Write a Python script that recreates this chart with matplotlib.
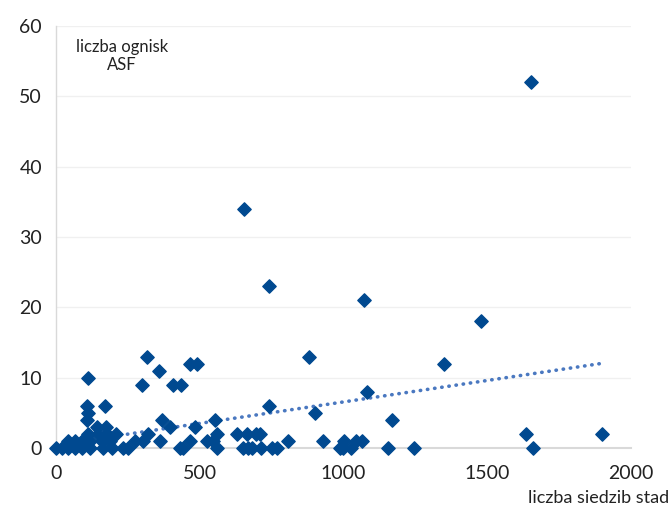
import matplotlib.pyplot as plt
import numpy as np

plt.rcParams['font.family'] = ['Lato', 'DejaVu Sans']

# liczba siedzib stad (x) vs liczba ognisk ASF (y)
herds = [1652, 654, 741, 1071, 1478, 317, 880, 1350, 466, 490, 111, 358,
         299, 407, 435, 1082, 108, 170, 741, 111, 901, 108, 369, 553, 1169,
         143, 174, 397, 485,
         111, 146, 177, 209, 320, 560, 630, 664, 695, 709, 1635, 1899,
         42, 66, 90, 118, 160, 188, 275, 303, 362, 466, 525, 546, 807, 929,
         1002, 1043, 1064,
         0, 21, 42, 66, 90, 118, 163, 195, 233, 250, 431, 442, 560, 650, 668,
         681, 713, 751, 768, 988, 998, 1026, 1155, 1245, 1659]
outbreaks = [52, 34, 23, 21, 18, 13, 13, 12, 12, 12, 10, 11,
             9, 9, 9, 8, 6, 6, 6, 5, 5, 4, 4, 4, 4,
             3, 3, 3, 3,
             2, 2, 2, 2, 2, 2, 2, 2, 2, 2, 2, 2,
             1, 1, 1, 1, 1, 1, 1, 1, 1, 1, 1, 1, 1, 1,
             1, 1, 1,
             0, 0, 0, 0, 0, 0, 0, 0, 0, 0, 0, 0, 0, 0, 0,
             0, 0, 0, 0, 0, 0, 0, 0, 0, 0]

# linear trend
trend_slope = 0.0061
trend_intercept = 0.45

x = np.array(herds)
y = np.array(outbreaks)

fig = plt.figure(figsize=(6.71, 5.12), dpi=100)
ax = fig.add_axes([56 / 671, 1 - 448 / 512, 575 / 671, 422 / 512])

xt = np.linspace(x.min(), x.max(), 2)
ax.plot(xt, trend_slope * xt + trend_intercept, color='#4a78c0', lw=2.6,
        linestyle=(0, (0.1, 1.9)), dash_capstyle='round', zorder=2)

ax.scatter(x, y, marker='D', s=46, color='#004990', zorder=3, clip_on=False)

ax.set_xlim(0, 2000)
ax.set_ylim(0, 60)
ax.set_xticks([0, 500, 1000, 1500, 2000])
ax.set_yticks(range(0, 61, 10))
ax.grid(axis='y', color='#f0f0f0', lw=1)
ax.set_axisbelow(True)
for s in ['top', 'right']:
    ax.spines[s].set_visible(False)
ax.spines['bottom'].set_color('#d9d9d9')
ax.spines['bottom'].set_linewidth(1.5)
ax.spines['left'].set_color('#d9d9d9')
ax.spines['left'].set_linewidth(1)
ax.tick_params(axis='y', length=0, labelsize=14, colors='#222222', pad=10)
ax.tick_params(axis='x', length=0, labelsize=14, colors='#222222', pad=12)

ax.text(0.115, 0.97, 'liczba ognisk\nASF', transform=ax.transAxes, ha='center',
        va='top', fontsize=12, color='#222222', linespacing=1.2)
fig.text(0.997, 0.012, 'liczba siedzib stad', ha='right', va='bottom',
         fontsize=13, color='#222222')

fig.savefig('out.png', dpi=100)
